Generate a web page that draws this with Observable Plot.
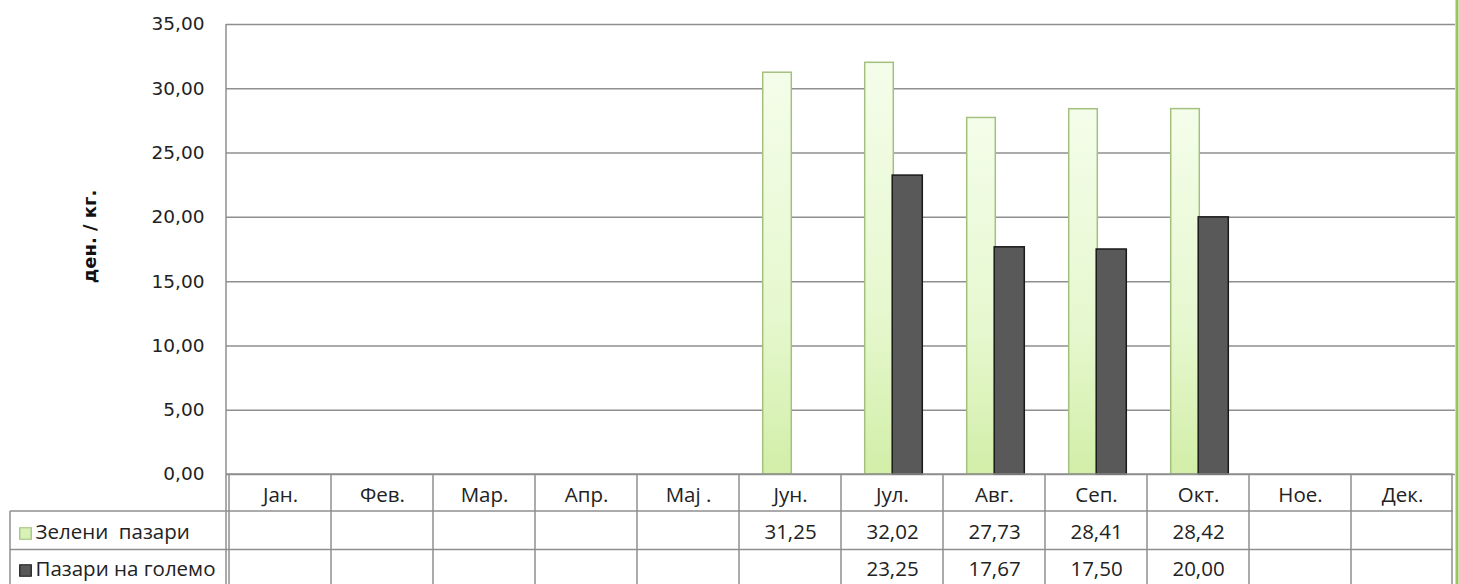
<!DOCTYPE html>
<html>
<head>
<meta charset="utf-8">
<script src="https://cdn.jsdelivr.net/npm/d3@7"></script>
<script src="https://cdn.jsdelivr.net/npm/@observablehq/plot@0.6"></script>
<style>
  html, body { margin: 0; padding: 0; background: #fff; }
  #chart { width: 1459px; height: 584px; overflow: hidden; }
</style>
</head>
<body>
<div id="chart"></div>
<script>
// ---- data ----
const months = ["Јан.", "Фев.", "Мар.", "Апр.", "Мај .", "Јун.", "Јул.", "Авг.", "Сеп.", "Окт.", "Ное.", "Дек."];
const seriesNames = ["Зелени  пазари", "Пазари на големо"];
const greenMarkets = [null, null, null, null, null, 31.25, 32.02, 27.73, 28.41, 28.42, null, null];
const wholesaleMarkets = [null, null, null, null, null, null, 23.25, 17.67, 17.50, 20.00, null, null];
const yTicks = [0, 5, 10, 15, 20, 25, 30, 35];
const yLabel = "ден. / кг.";

const fmt = v => v.toFixed(2).replace(".", ",");
const toRows = vals => months.map((m, i) => ({month: m, value: vals[i]})).filter(d => d.value != null);
const greenRows = toRows(greenMarkets);
const darkRows = toRows(wholesaleMarkets);

const gridColor = "#8f8f8f";
const textColor = "#222";
const tableFont = "Open Sans";
const tableSize = 20.5;

// table grid + frame lines, drawn from Plot's own x scale
function tableGrid(index, scales, values, dimensions) {
  const {width, height, marginLeft, marginRight, marginTop, marginBottom} = dimensions;
  const x = scales.x;
  const bw = x.bandwidth();
  const y0 = height - marginBottom;
  const right = x(months[months.length - 1]) + bw;
  const labelLeft = 10;
  const g = d3.create("svg:g").attr("fill", "none");
  const lines = g.append("g").attr("stroke", gridColor).attr("stroke-width", 1.5);
  const line = (x1, y1, x2, y2) => lines.append("line").attr("x1", x1).attr("y1", y1).attr("x2", x2).attr("y2", y2);
  line(marginLeft, marginTop, marginLeft, height);
  months.forEach(m => line(x(m), y0, x(m), height));
  line(right - 1, y0, right - 1, height);
  line(marginLeft, y0, right, y0);
  line(labelLeft, y0 + 37, right, y0 + 37);
  line(labelLeft, y0 + 75.5, right, y0 + 75.5);
  line(labelLeft, y0 + 37, labelLeft, height);
  g.append("line").attr("x1", width - 2).attr("x2", width - 2).attr("y1", 0).attr("y2", height)
    .attr("stroke", "#9cc35c").attr("stroke-width", 3);
  return g.node();
}

const tableText = {fontSize: tableSize, fontFamily: tableFont, fill: textColor};

const chart = Plot.plot({
  width: 1459,
  height: 584,
  marginLeft: 226,
  marginRight: 4,
  marginTop: 24,
  marginBottom: 110,
  style: {fontFamily: "DejaVu Sans", fontSize: "18.5px", color: textColor, background: "#fff", overflow: "visible"},
  x: {type: "band", domain: months, padding: 0, axis: null},
  y: {domain: [0, 35], ticks: yTicks, tickFormat: fmt, tickSize: 0, tickPadding: 22, label: null},
  marks: [
    Plot.ruleY(yTicks, {stroke: gridColor, strokeWidth: 1.5}),
    Plot.barY(greenRows, {x: "month", y: "value", fill: "url(#greenGrad)", stroke: "#a3c07f", strokeWidth: 1.5, insetLeft: 23.7, insetRight: 49.7}),
    Plot.barY(darkRows, {x: "month", y: "value", fill: "#595959", stroke: "#1a1a1a", strokeWidth: 1.5, insetLeft: 51.2, insetRight: 20.7}),
    tableGrid,
    Plot.text(months, {x: d => d, text: d => d, frameAnchor: "bottom", dy: 27, ...tableText}),
    Plot.text(greenRows, {x: "month", text: d => fmt(d.value), frameAnchor: "bottom", dy: 64, ...tableText}),
    Plot.text(darkRows, {x: "month", text: d => fmt(d.value), frameAnchor: "bottom", dy: 101, ...tableText}),
    Plot.text([seriesNames[0]], {text: d => d, frameAnchor: "bottom-left", dx: -191, dy: 64, textAnchor: "start", ...tableText}),
    Plot.text([seriesNames[1]], {text: d => d, frameAnchor: "bottom-left", dx: -191, dy: 101, textAnchor: "start", ...tableText}),
    Plot.dot([seriesNames[0]], {frameAnchor: "bottom-left", dx: -201, dy: 59, symbol: "square", r: 6.5, fill: "#d8f1b6", stroke: "#9fbf78", strokeWidth: 1.2}),
    Plot.dot([seriesNames[1]], {frameAnchor: "bottom-left", dx: -201, dy: 96, symbol: "square", r: 6.5, fill: "#595959", stroke: "#1a1a1a", strokeWidth: 1.2}),
    Plot.text([yLabel], {text: d => d, frameAnchor: "left", textAnchor: "middle", dx: -136, dy: -13, rotate: -90, fontSize: 18, fontWeight: "bold", fontFamily: "DejaVu Sans", fill: "#111"})
  ]
});

const ns = "http://www.w3.org/2000/svg";
const defs = document.createElementNS(ns, "defs");
defs.innerHTML = `<linearGradient id="greenGrad" x1="0" y1="0" x2="0" y2="1">
  <stop offset="0" stop-color="#f4fdea"/>
  <stop offset="0.6" stop-color="#e6f8cf"/>
  <stop offset="1" stop-color="#d2eea8"/>
</linearGradient>`;
chart.insertBefore(defs, chart.firstChild);

document.getElementById("chart").appendChild(chart);
</script>
</body>
</html>
